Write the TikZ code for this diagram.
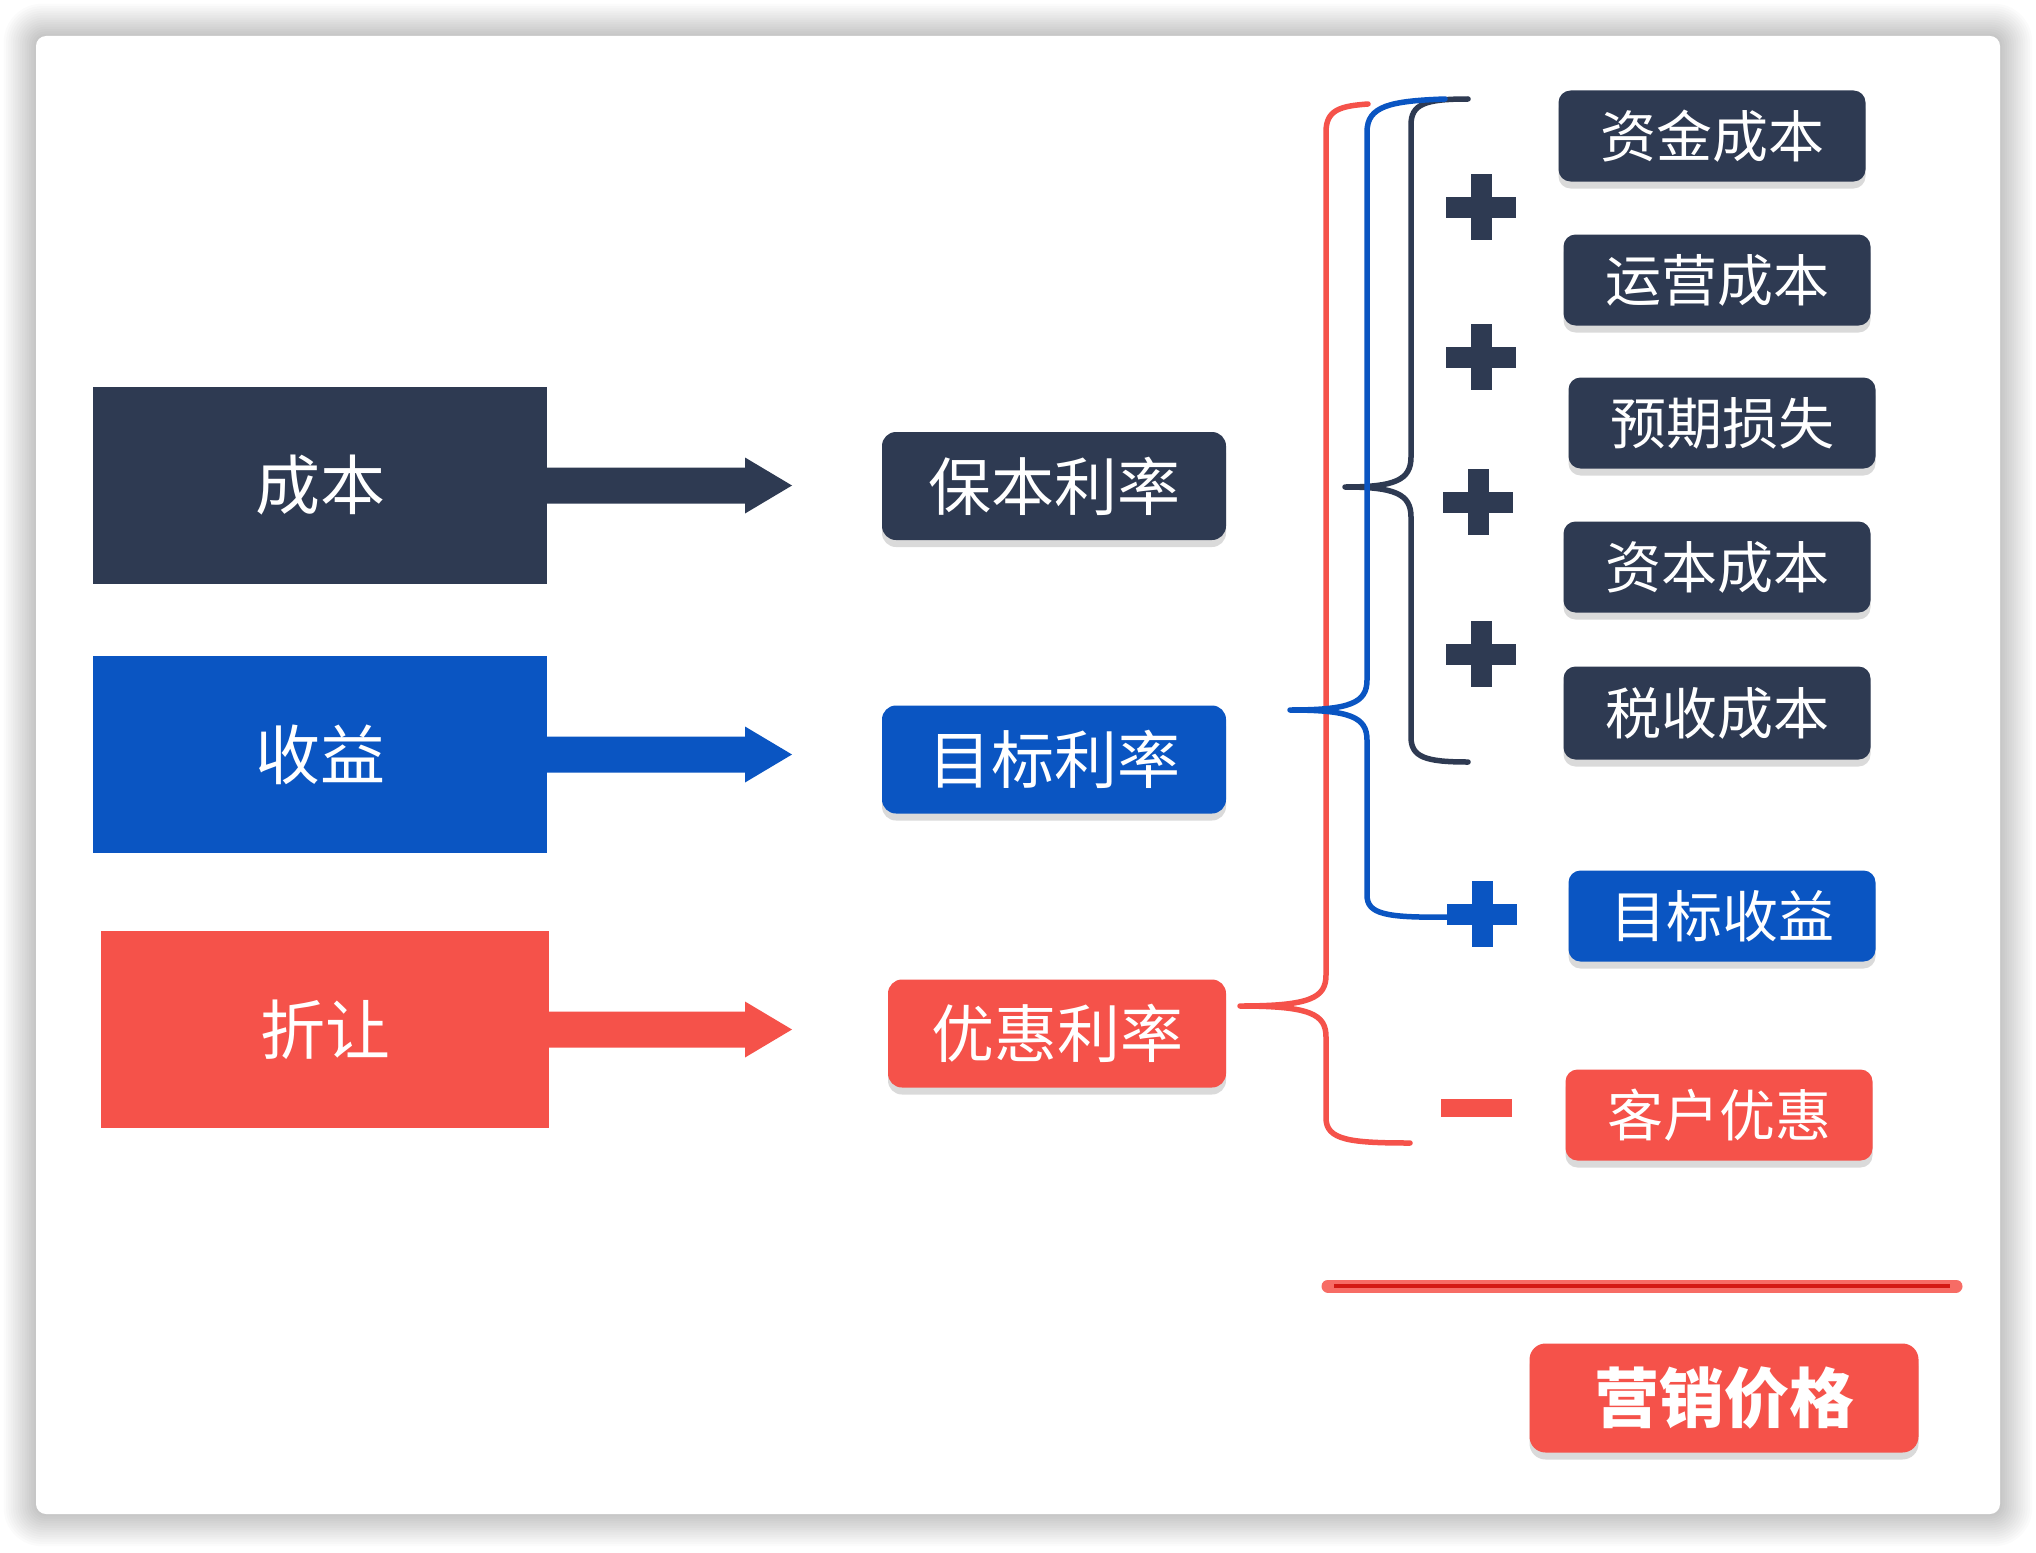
\documentclass[tikz,border=0pt]{standalone}
\usepackage{fontspec}
\newfontfamily\cjk{Noto Sans CJK SC}
\usetikzlibrary{shadows,calc}
\definecolor{navy}{HTML}{2E3A52}
\definecolor{cblue}{HTML}{0A55C2}
\definecolor{cred}{HTML}{F5524A}
\definecolor{dred}{HTML}{D41A14}
\newcommand\fatarrow[3]{\fill[#1] ($(#2)+(0,-18)$) -- ($(#3)+(-47,-18)$) -- ($(#3)+(-47,-28)$) -- (#3) -- ($(#3)+(-47,28)$) -- ($(#3)+(-47,18)$) -- ($(#2)+(0,18)$) -- cycle;}
\begin{document}
\begin{tikzpicture}[x=1pt,y=-1pt,
  leftbox/.style={minimum height=197pt, text=white, inner sep=0pt, font=\cjk\fontsize{65}{72}\selectfont},
  softshadow/.style={drop shadow={shadow xshift=0pt, shadow yshift=-7pt, opacity=0.18, fill=black!80}},
  midbox/.style={rounded corners=14pt, minimum width=344pt, minimum height=108pt, text=white, inner sep=0pt, font=\cjk\fontsize{63}{70}\selectfont, softshadow},
  rightbox/.style={rounded corners=12pt, minimum width=307pt, minimum height=91pt, text=white, inner sep=0pt, font=\cjk\fontsize{56}{62}\selectfont, softshadow},
  brace/.style={line width=5.5pt, line cap=round, line join=round},
  plussign/.pic={\fill (-35,-10.5) rectangle (35,10.5); \fill (-10.5,-33) rectangle (10.5,33);}
]
\useasboundingbox (0,0) rectangle (2036,1552);
\fill[white] (0,0) rectangle (2036,1552);
% card shadow
\foreach \i in {1,...,14}{
  \fill[black, opacity=0.016, rounded corners={10pt+\i*2pt}] ({36-\i*2.3},{36-\i*2.3}) rectangle ({2000+\i*2.3},{1514+\i*2.3});
}
\fill[white, rounded corners=10pt] (36,36) rectangle (2000,1514);

% left boxes
\node[leftbox, fill=navy, minimum width=454pt] (b1) at (320,485.5) {成本};
\node[leftbox, fill=cblue, minimum width=454pt] (b2) at (320,754.5) {收益};
\node[leftbox, fill=cred, minimum width=448pt] (b3) at (325,1029.5) {折让};

% middle boxes
\node[midbox, fill=navy] (m1) at (1054,486) {保本利率};
\node[midbox, fill=cblue] (m2) at (1054,759.5) {目标利率};
\node[midbox, fill=cred, minimum width=338pt] (m3) at (1057,1033.5) {优惠利率};

% arrows
\coordinate (a1) at (792,485.5);
\coordinate (a2) at (792,754.5);
\coordinate (a3) at (792,1029.5);
\fatarrow{navy}{b1.east}{a1}
\fatarrow{cblue}{b2.east}{a2}
\fatarrow{cred}{b3.east}{a3}

% right boxes
\node[rightbox, fill=navy] (r1) at (1712,136) {资金成本};
\node[rightbox, fill=navy] (r2) at (1717,280) {运营成本};
\node[rightbox, fill=navy] (r3) at (1722,423) {预期损失};
\node[rightbox, fill=navy] (r4) at (1717,567) {资本成本};
\node[rightbox, fill=navy, minimum height=93pt] (r5) at (1717,713) {税收成本};
\node[rightbox, fill=cblue] (r6) at (1722,916) {目标收益};
\node[rightbox, fill=cred] (r7) at (1719,1115) {客户优惠};
\node[rightbox, fill=cred, minimum width=389pt, minimum height=109pt, rounded corners=16pt, font=\cjk\bfseries\fontsize{65}{72}\selectfont] (r8) at (1724,1398) {营销价格};

% braces
\draw[brace, cred] (1368,104) .. controls (1340,106) and (1326,110) .. (1326,132) -- (1326,975) .. controls (1326,998) and (1310,1006) .. (1240,1006) .. controls (1310,1006) and (1326,1014) .. (1326,1037) -- (1326,1118) .. controls (1326,1140) and (1350,1143) .. (1410,1143);
\draw[brace, navy] (1468,99) .. controls (1425,99) and (1411,104) .. (1411,125) -- (1411,457) .. controls (1411,480) and (1395,487) .. (1345,487) .. controls (1395,487) and (1411,494) .. (1411,517) -- (1411,737) .. controls (1411,757) and (1425,762) .. (1468,762);
\draw[brace, cblue] (1445,99) .. controls (1390,101) and (1367,106) .. (1367,132) -- (1367,680) .. controls (1367,703) and (1350,710) .. (1290,710) .. controls (1350,710) and (1367,717) .. (1367,740) -- (1367,895) .. controls (1367,914) and (1385,918) .. (1450,917);

% plus and minus signs
\pic[navy] (p1) at (1481,207) {plussign};
\pic[navy] (p2) at (1481,357) {plussign};
\pic[navy] (p3) at (1478,502) {plussign};
\pic[navy] (p4) at (1481,654) {plussign};
\pic[cblue] (p5) at (1482,914) {plussign};
\node[fill=cred, minimum width=71pt, minimum height=18pt, inner sep=0pt] (minus) at (1476,1108) {};

% result line
\coordinate (l1) at (1328,1286);
\coordinate (l2) at (1956,1286);
\draw[line width=13pt, cred!85, line cap=round] (l1) -- (l2);
\draw[line width=4pt, dred] ($(l1)+(6,0)$) -- ($(l2)+(-6,0)$);
\end{tikzpicture}
\end{document}
